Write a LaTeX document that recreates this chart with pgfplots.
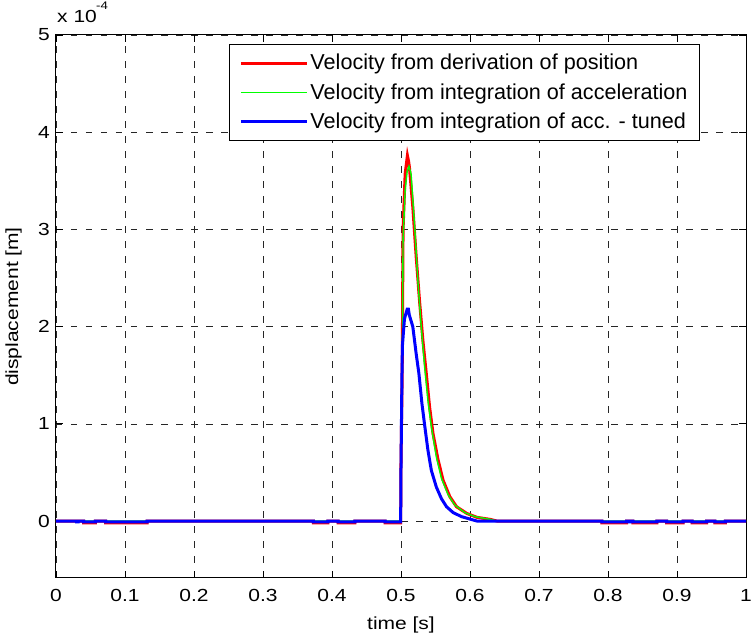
\documentclass[border=0pt]{standalone}
\usepackage{fontspec}
\setmainfont[FakeStretch=1.2]{Liberation Sans}
\newfontfamily\legfont{Liberation Sans}
\usepackage{pgfplots}
\pgfplotsset{compat=1.18}

\definecolor{mred}{rgb}{1,0,0}
\definecolor{mgreen}{rgb}{0,1,0}
\definecolor{mblue}{rgb}{0,0,1}

\begin{document}
\fontsize{17.5bp}{21bp}\selectfont
\begin{tikzpicture}
\path[use as bounding box] (-56bp,-56bp) rectangle (696bp,578bp);
\begin{axis}[
  at={(0,0)}, anchor=south west, scale only axis,
  width=690bp, height=543bp,
  xmin=0, xmax=1, ymin=-0.586, ymax=5,
  xtick={0,0.1,0.2,0.3,0.4,0.5,0.6,0.7,0.8,0.9,1},
  xticklabels={0,0.1,0.2,0.3,0.4,0.5,0.6,0.7,0.8,0.9,1},
  ytick={0,1,2,3,4,5},
  yticklabels={0,1,2,3,4,5},
  xticklabel style={anchor=base, yshift=-24bp},
  yticklabel style={anchor=east, inner sep=0pt, xshift=-6bp},
  tick align=inside, major tick length=7bp,
  tick style={black, line width=0.8bp},
  axis line style={line width=1bp},
  grid=major,
  major grid style={black!85, dash pattern=on 6.5bp off 8.5bp, line width=0.6bp},
  /pgf/number format/assume math mode=true,
  legend cell align=left,
  legend style={at={(rel axis cs:0.2507,0.983)}, anchor=north west,
    draw=black, line width=1bp, inner xsep=10bp, inner ysep=7.5bp,
    font=\legfont\fontsize{21.6bp}{25bp}\selectfont,
    nodes={inner sep=2bp}, row sep=7bp},
  legend image code/.code={\draw[#1] (0bp,0bp) -- (66bp,0bp);},
]
% velocity from derivation of position
\addplot[mred, line width=3bp] coordinates {
(0,0)(0.040,0)(0.040,-0.018)(0.057,-0.018)(0.057,0)(0.072,0)(0.072,-0.018)(0.132,-0.018)(0.132,0)
(0.373,0)(0.373,-0.018)(0.394,-0.018)(0.394,0)(0.409,0)(0.409,-0.018)(0.433,-0.018)(0.433,0)
(0.477,0)(0.477,-0.018)(0.4995,-0.018)
(0.5000,0.6)(0.5017,1.5)(0.503,3.0)(0.506,3.57)(0.5093,3.76)(0.511,3.7)(0.5122,3.64)(0.5171,3.23)
(0.522,2.72)(0.5268,2.27)(0.5317,1.86)(0.5366,1.52)(0.5415,1.17)(0.5464,0.90)(0.5537,0.63)
(0.561,0.42)(0.5708,0.25)(0.5805,0.147)(0.5952,0.079)(0.61,0.038)(0.6293,0.017)(0.639,0)
(0.791,0)(0.791,-0.018)(0.827,-0.018)(0.827,0)(0.836,0)(0.836,-0.018)(0.871,-0.018)(0.871,0)
(0.885,0)(0.885,-0.018)(0.909,-0.018)(0.909,0)(0.922,0)(0.922,-0.018)(0.943,-0.018)(0.943,0)
(0.955,0)(0.955,-0.018)(0.970,-0.018)(0.970,0)(1,0)
};
\addlegendentry{Velocity from derivation of position}
% velocity from integration of acceleration
\addplot[mgreen, line width=1.4bp] coordinates {
(0,0)(0.4995,0)(0.5000,0.6)(0.5017,1.5)(0.503,2.9)(0.506,3.4)(0.509,3.6)(0.5115,3.65)(0.5146,3.57)
(0.5195,3.06)(0.5244,2.48)(0.5293,2.0)(0.5342,1.59)(0.539,1.24)(0.544,0.97)(0.5512,0.66)
(0.5586,0.44)(0.5683,0.27)(0.578,0.164)(0.5927,0.086)(0.6074,0.045)(0.6293,0.017)(0.639,0)(1,0)
};
\addlegendentry{Velocity from integration of acceleration\hspace{46bp}}
% tuned
\addplot[mblue, line width=3bp] coordinates {
(0,0)(0.030,0)(0.030,-0.008)(0.032,-0.008)(0.032,0)(0.040,0)(0.040,-0.008)(0.057,-0.008)(0.057,0)
(0.072,0)(0.072,-0.008)(0.132,-0.008)(0.132,0)
(0.373,0)(0.373,-0.008)(0.394,-0.008)(0.394,0)(0.409,0)(0.409,-0.008)(0.433,-0.008)(0.433,0)
(0.477,0)(0.477,-0.008)(0.4995,-0.008)
(0.5,0.55)(0.5013,1.45)(0.502,1.8)(0.505,2.08)(0.509,2.18)(0.5107,2.18)(0.512,2.12)(0.5171,2.0)
(0.522,1.72)(0.5259,1.52)(0.5303,1.21)(0.5342,0.99)(0.539,0.73)(0.544,0.52)(0.5512,0.35)
(0.5586,0.23)(0.566,0.147)(0.5757,0.086)(0.5879,0.045)(0.6,0.02)(0.61,0)
(0.791,0)(0.791,-0.008)(0.827,-0.008)(0.827,0)(0.830,0)(0.830,-0.008)(0.832,-0.008)(0.832,0)
(0.836,0)(0.836,-0.008)(0.871,-0.008)(0.871,0)
(0.885,0)(0.885,-0.008)(0.909,-0.008)(0.909,0)(0.922,0)(0.922,-0.008)(0.943,-0.008)(0.943,0)
(0.955,0)(0.955,-0.008)(0.970,-0.008)(0.970,0)(1,0)
};
\addlegendentry{Velocity from integration of acc. - tuned}
\end{axis}
\node[anchor=base, inner sep=0] at (345bp,-51bp) {time [s]};
\node[anchor=base, inner sep=0, rotate=90] at (-38bp,271.5bp) {displacement [m]};
\node[anchor=base west, inner sep=0] at (1bp,555bp) {x 10};
\node[anchor=base west, inner sep=0, font=\fontsize{11bp}{13bp}\selectfont] at (40bp,568bp) {-4};
\end{tikzpicture}
\end{document}
